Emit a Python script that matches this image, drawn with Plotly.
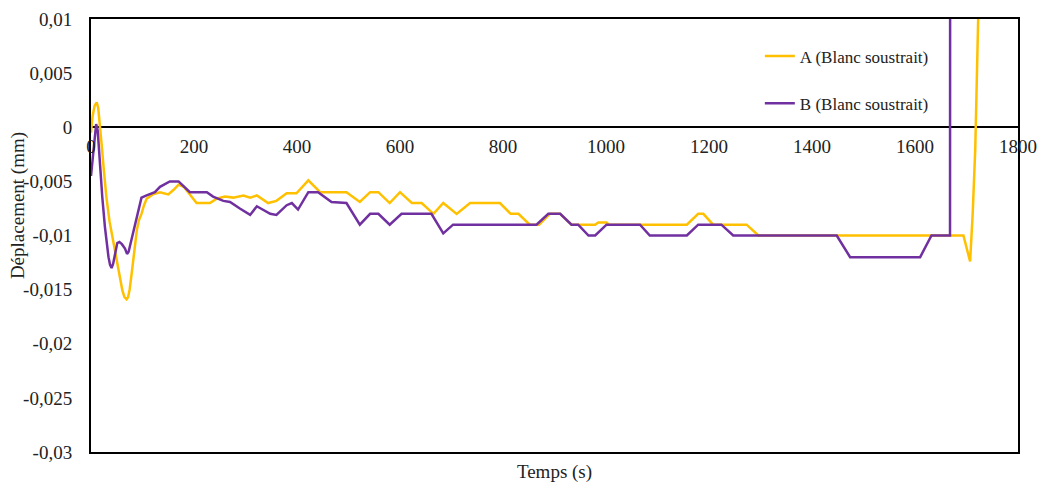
import plotly.graph_objects as go

# ---- data ----
series_a_name = "A (Blanc soustrait)"
time_a = [0, 3, 7, 11, 14, 17, 21, 25, 30, 36, 43, 50, 56, 61, 65, 69, 72, 75, 79, 84, 89, 93, 98,
          103, 108, 120, 134, 150, 160, 170, 180,
          205, 231, 244, 260, 276, 296, 309, 322, 344, 360, 380, 399, 422, 445, 470, 496, 522, 542,
          558, 580, 600, 623, 642, 665, 684, 710, 736, 794, 815, 830, 852, 870, 891, 911, 933, 979,
          985, 1001, 1006, 1157, 1179, 1189, 1208, 1273, 1296, 1694, 1707, 1712, 1717, 1725]
disp_a = [-0.0005, 0.001, 0.002, 0.0023, 0.0018, 0.0005, -0.0018, -0.004, -0.0065, -0.0087,
          -0.0105, -0.0124, -0.0139, -0.0151, -0.0157, -0.0159, -0.0157, -0.015, -0.0135, -0.0113,
          -0.0095, -0.0086, -0.008, -0.0072, -0.0066, -0.0062, -0.006, -0.0062, -0.0058, -0.0053,
          -0.0055, -0.007, -0.007, -0.0066, -0.0064, -0.0065, -0.0063, -0.0065, -0.0063, -0.007,
          -0.0068, -0.0061, -0.0061, -0.0049, -0.006, -0.006, -0.006, -0.0069, -0.006, -0.006,
          -0.007, -0.006, -0.007, -0.007, -0.008, -0.007, -0.008, -0.007, -0.007, -0.008, -0.008,
          -0.009, -0.009, -0.008, -0.008, -0.009, -0.009, -0.0088, -0.0088, -0.009, -0.009, -0.008,
          -0.008, -0.009, -0.009, -0.01, -0.01, -0.0124, -0.008, -0.002, 0.015]

series_b_name = "B (Blanc soustrait)"
time_b = [0, 4, 7, 10, 13, 17, 22, 27, 31, 34, 37, 40, 43, 47, 51, 55, 60, 66, 70, 73, 78, 85, 92,
          98, 108, 124, 134, 153, 170, 192,
          225, 237, 257, 270, 289, 309, 322, 348, 360, 380, 390, 402, 422, 441, 467, 496, 522, 542,
          558, 580, 603, 661, 684, 703, 865, 888, 911, 933, 946, 966, 979, 1001, 1066, 1085, 1157,
          1179, 1224, 1247, 1448, 1474, 1610, 1632, 1668, 1668.5]
disp_b = [-0.0045, -0.0025, -0.0008, 0.0003, -0.0003, -0.0034, -0.0065, -0.0092, -0.011, -0.012,
          -0.0127, -0.013, -0.0126, -0.0115, -0.0107, -0.0106, -0.0108, -0.0112, -0.0117, -0.0115,
          -0.0105, -0.009, -0.0075, -0.0065, -0.0063, -0.006, -0.0055, -0.005, -0.005,
          -0.006, -0.006, -0.0064, -0.0068, -0.0069, -0.0075, -0.0081, -0.0073, -0.008, -0.0081,
          -0.0072, -0.007, -0.0076, -0.006, -0.006, -0.0069, -0.007, -0.009, -0.008, -0.008,
          -0.009, -0.008, -0.008, -0.0098, -0.009, -0.009, -0.008, -0.008, -0.009, -0.009, -0.01,
          -0.01, -0.009, -0.009, -0.01, -0.01, -0.009, -0.009, -0.01, -0.01, -0.012, -0.012,
          -0.01, -0.01, 0.05]

x_ticks = [0, 200, 400, 600, 800, 1000, 1200, 1400, 1600, 1800]
y_ticks = [0.01, 0.005, 0, -0.005, -0.01, -0.015, -0.02, -0.025, -0.03]
y_tick_text = ["0,01", "0,005", "0", "-0,005", "-0,01", "-0,015", "-0,02", "-0,025", "-0,03"]

x_title = "Temps (s)"
y_title = "Déplacement (mm)"

COLOR_A = "#FFC000"
COLOR_B = "#7030A0"
FONT = "Liberation Serif"
TXT = "#222222"

fig = go.Figure()
fig.add_trace(go.Scatter(x=time_a, y=disp_a, mode="lines", name=series_a_name,
                         legendgroup="a", line=dict(color=COLOR_A, width=2.5)))
fig.add_trace(go.Scatter(x=time_b, y=disp_b, mode="lines", name=series_b_name,
                         legendgroup="b", line=dict(color=COLOR_B, width=2.5)))
# invisible carrier so the tick-label axis placed at y=0 is drawn
fig.add_trace(go.Scatter(x=time_a, y=disp_a, mode="lines", xaxis="x2", yaxis="y",
                         line=dict(width=0, color="rgba(0,0,0,0)"), showlegend=False,
                         hoverinfo="skip"))

fig.update_layout(
    width=1040, height=485,
    margin=dict(l=91, r=22, t=19, b=33, autoexpand=False),
    paper_bgcolor="white", plot_bgcolor="white",
    font=dict(family=FONT, size=19, color=TXT),
    showlegend=True,
    legend=dict(x=0.7215, y=0.955, xanchor="left", yanchor="top",
                font=dict(family=FONT, size=17, color=TXT),
                tracegroupgap=22, bgcolor="rgba(0,0,0,0)"),
    xaxis=dict(range=[0, 1800], showticklabels=False, ticks="", showgrid=False,
               zeroline=False, showline=True, mirror=True, linecolor="black", linewidth=2,
               automargin=False,
               title=dict(text=x_title, standoff=12, font=dict(family=FONT, size=19, color=TXT))),
    xaxis2=dict(range=[0, 1800], overlaying="x", anchor="free", position=0.75, side="bottom",
                tickvals=x_ticks, ticktext=[str(v) for v in x_ticks], ticks="",
                showgrid=False, zeroline=False, showline=False, ticklabelstandoff=6,
                automargin=False,
                tickfont=dict(family=FONT, size=19, color=TXT)),
    yaxis=dict(range=[-0.03, 0.01], tickvals=y_ticks, ticktext=y_tick_text, ticks="",
               showgrid=False, zeroline=True, zerolinecolor="black", zerolinewidth=2,
               showline=True, mirror=True, linecolor="black", linewidth=2, automargin=False,
               ticklabelstandoff=13, tickfont=dict(family=FONT, size=19, color=TXT)),
    annotations=[dict(text=y_title, textangle=-90, xref="paper", yref="paper",
                      x=-0.0787, y=0.568, xanchor="center", yanchor="middle",
                      showarrow=False, font=dict(family=FONT, size=19, color=TXT))],
)

fig.write_html("out.html", config={"displayModeBar": False},
               post_script="document.body.style.margin='0';")
